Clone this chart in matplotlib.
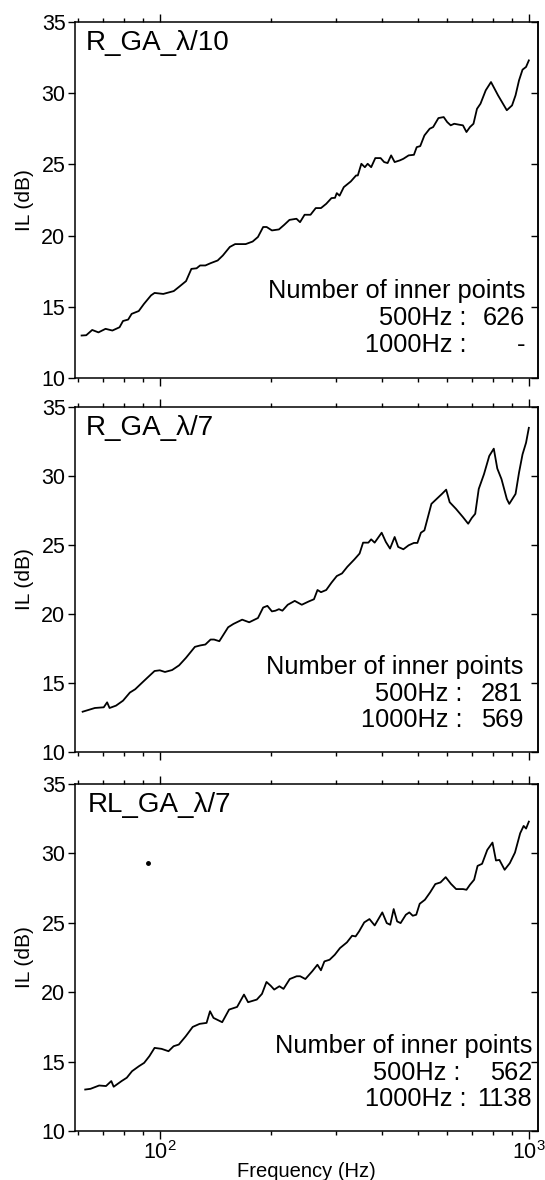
import matplotlib
matplotlib.use("Agg")
import matplotlib.pyplot as plt
from matplotlib.ticker import LogLocator, MultipleLocator, NullFormatter

plt.rcParams["font.family"] = ["Liberation Sans", "DejaVu Sans"]
plt.rcParams["mathtext.fontset"] = "custom"
plt.rcParams["mathtext.rm"] = "Liberation Sans"
plt.rcParams["mathtext.it"] = "Liberation Sans:italic"
plt.rcParams["mathtext.bf"] = "Liberation Sans:bold"

# --- data (frequency in Hz, IL in dB) ---
freq_r10 = [61.4, 63.2, 65.6, 68.2, 71.3, 74.4, 77.8, 79.5, 82.1, 83.9, 87.7, 90.6,
            94.7, 96.8, 102.2, 109.1, 112.8, 117.8, 121.8, 125.8, 128.6, 132.9, 137.3,
            143.5, 148.2, 154.8, 160.0, 170.9, 178.5, 184.5, 190.6, 194.8, 201.3, 210.3,
            217.3, 224.6, 234.6, 239.9, 246.8, 256.1, 264.6, 273.4, 282.5, 291.9, 298.4,
            301.7, 307.0, 315.2, 329.3, 340.3, 344.0, 351.7, 359.5, 365.8, 373.9, 383.7,
            396.6, 405.4, 414.3, 423.5, 432.9, 447.3, 457.1, 472.4, 488.2, 496.8, 507.8,
            521.2, 538.6, 550.5, 568.9, 587.9, 600.8, 614.1, 627.7, 648.6, 662.9, 677.6,
            692.6, 707.9, 723.6, 739.6, 764.2, 789.7, 825.0, 871.5, 900.5, 920.4, 940.6,
            961.4, 982.7, 1000.0]
il_r10 = [12.98, 13.0, 13.37, 13.2, 13.45, 13.33, 13.56, 14.0, 14.1, 14.5, 14.7, 15.2,
          15.8, 15.97, 15.9, 16.1, 16.4, 16.8, 17.66, 17.7, 17.9, 17.9, 18.06,
          18.25, 18.6, 19.2, 19.4, 19.4, 19.58, 19.9, 20.6, 20.6, 20.36, 20.43,
          20.75, 21.1, 21.18, 20.94, 21.46, 21.46, 21.93, 21.93, 22.23, 22.63, 22.65,
          22.98, 22.8, 23.4, 23.8, 24.22, 24.22, 25.04, 24.8, 25.04, 24.8, 25.44,
          25.44, 25.16, 25.09, 25.63, 25.16, 25.28, 25.39, 25.63, 25.67, 26.21, 26.28,
          27.03, 27.5, 27.62, 28.25, 28.32, 27.97, 27.74, 27.85, 27.78, 27.74, 27.27,
          27.62, 27.85, 28.9, 29.26, 30.2, 30.78, 29.85, 28.8, 29.14, 29.85, 30.9,
          31.65, 31.84, 32.3]

freq_r7 = [61.8, 66.7, 70.5, 72.0, 73.1, 76.1, 79.5, 83.0, 85.8, 89.6, 92.6, 96.8,
           100.0, 103.3, 108.0, 112.8, 117.8, 124.5, 128.6, 132.9, 137.3, 140.3, 145.0,
           153.2, 158.3, 167.2, 174.7, 184.5, 190.6, 195.7, 201.3, 205.8, 210.3, 214.9,
           222.2, 232.1, 242.5, 253.3, 261.7, 267.5, 273.4, 282.5, 291.9, 301.7, 311.7,
           322.2, 336.6, 347.8, 355.5, 367.4, 373.9, 382.1, 399.2, 409.8, 420.6, 432.9,
           442.5, 457.1, 472.4, 488.2, 498.9, 510.0, 521.2, 544.5, 562.6, 581.4, 597.0,
           610.2, 634.6, 662.9, 684.9, 700.1, 715.6, 731.5, 755.8, 781.1, 803.5, 821.3,
           843.2, 871.5, 885.0, 920.4, 940.6, 961.4, 982.7, 1000.0]
il_r7 = [12.92, 13.19, 13.24, 13.6, 13.19, 13.36, 13.72, 14.31, 14.55, 15.03, 15.39, 15.87,
         15.92, 15.8, 15.94, 16.28, 16.83, 17.62, 17.72, 17.79, 18.15, 18.15, 18.03,
         19.04, 19.28, 19.59, 19.4, 19.71, 20.47, 20.59, 20.19, 20.24, 20.35, 20.24,
         20.67, 20.95, 20.67, 20.91, 21.07, 21.74, 21.58, 21.74, 22.27, 22.75, 22.94,
         23.42, 23.95, 24.38, 25.17, 25.17, 25.41, 25.17, 25.89, 25.22, 24.74, 25.58,
         24.86, 24.69, 24.98, 25.15, 25.15, 25.89, 26.06, 27.98, 28.34, 28.7, 29.01,
         28.1, 27.62, 27.02, 26.54, 26.95, 27.26, 29.06, 30.13, 31.45, 31.98, 30.54,
         29.77, 28.34, 27.98, 28.7, 30.25, 31.57, 32.41, 33.49]

freq_rl7 = [62.8, 64.9, 68.5, 71.5, 73.9, 75.0, 78.8, 81.4, 84.1, 87.8, 90.7, 93.7,
            96.8, 101.1, 105.6, 109.0, 112.6, 117.6, 122.8, 128.2, 133.9, 136.8, 139.8,
            147.6, 154.1, 162.0, 169.1, 173.5, 183.2, 189.2, 194.6, 199.7, 204.2, 210.9,
            216.4, 225.0, 234.9, 240.1, 248.0, 258.9, 267.4, 273.3, 279.3, 288.5, 298.0,
            307.8, 321.4, 332.0, 339.3, 346.7, 358.1, 369.9, 382.2, 400.8, 412.1, 421.1,
            430.3, 439.7, 449.3, 464.2, 474.4, 484.7, 495.3, 506.1, 522.8, 540.1, 557.9,
            576.3, 595.2, 614.9, 635.2, 663.2, 677.6, 692.5, 710.7, 726.2, 746.9, 771.5,
            797.0, 814.5, 832.3, 859.8, 888.1, 917.1, 947.3, 968.0, 982.9, 1000.0]
il_rl7 = [12.99, 13.04, 13.28, 13.24, 13.6, 13.19, 13.6, 13.84, 14.31, 14.67, 14.91, 15.39,
          15.99, 15.92, 15.75, 16.11, 16.23, 16.83, 17.5, 17.72, 17.79, 18.63, 18.15,
          17.84, 18.75, 18.94, 19.83, 19.28, 19.47, 19.88, 20.74, 20.47, 20.19, 20.43,
          20.24, 20.95, 21.15, 21.15, 20.95, 21.51, 21.98, 21.58, 22.22, 22.34, 22.7,
          23.18, 23.59, 24.07, 24.02, 24.38, 25.03, 25.27, 24.81, 25.75, 24.98, 24.86,
          25.99, 25.1, 24.98, 25.58, 25.75, 25.51, 25.58, 26.37, 26.66, 27.19, 27.79,
          27.91, 28.29, 27.81, 27.43, 27.43, 27.38, 27.74, 28.1, 29.1, 29.25, 30.25,
          30.78, 29.49, 29.53, 28.82, 29.3, 30.06, 31.45, 31.98, 31.79, 32.29]

# stray dot in the bottom panel
stray_freq = [92.8]
stray_il = [29.3]

titles = ["R_GA_λ/10", "R_GA_λ/7", "RL_GA_λ/7"]
points_500 = ["626", "281", "562"]
points_1000 = ["-", "569", "1138"]

fig = plt.figure(figsize=(5.45, 11.8), dpi=100)
positions = [
    [0.138, 0.6797, 0.8495, 0.3017],
    [0.138, 0.3627, 0.8495, 0.2924],
    [0.138, 0.0415, 0.8495, 0.2941],
]
series = [(freq_r10, il_r10), (freq_r7, il_r7), (freq_rl7, il_rl7)]
text_right = [0.972, 0.968, 0.987]
colon_x = [(0.845, 0.845), (0.836, 0.836), (0.833, 0.845)]
fs_note = 18.3

for i, (pos, (f, il)) in enumerate(zip(positions, series)):
    ax = fig.add_axes(pos)
    ax.plot(f, il, color="black", lw=1.3)
    if i == 2:
        ax.plot(stray_freq, stray_il, "o", color="black", ms=2.5)
    ax.set_xscale("log")
    ax.set_xlim(59, 1060)
    ax.set_ylim(10, 35)
    ax.yaxis.set_major_locator(MultipleLocator(5))
    ax.xaxis.set_major_locator(LogLocator(base=10))
    ax.xaxis.set_minor_locator(LogLocator(base=10, subs=range(2, 10)))
    ax.xaxis.set_minor_formatter(NullFormatter())
    for sp in ax.spines.values():
        sp.set_linewidth(1.1)
    ax.tick_params(axis="y", which="major", direction="out", length=5, width=1,
                   labelsize=15.5, pad=2)
    ax.tick_params(axis="x", which="both", direction="out", top=True, bottom=True,
                   labelsize=15.5, width=1, pad=1)
    ax.tick_params(axis="x", which="major", length=6)
    ax.tick_params(axis="x", which="minor", length=3)
    sec = ax.secondary_yaxis("right")
    sec.yaxis.set_major_locator(MultipleLocator(5))
    sec.tick_params(direction="in", length=5, width=1, labelright=False)
    sec.spines["right"].set_linewidth(1.1)
    if i < 2:
        ax.tick_params(axis="x", labelbottom=False)
    else:
        ax.set_xlabel("Frequency (Hz)", fontsize=14.5, labelpad=-1)
    ax.set_ylabel("IL (dB)", fontsize=15, labelpad=5)

    ax.text(0.022 if i < 2 else 0.028, 0.94, titles[i], transform=ax.transAxes,
            fontsize=20, ha="left", va="center")
    r = text_right[i]
    ax.text(r, 0.245, "Number of inner points", transform=ax.transAxes,
            fontsize=fs_note, ha="right", va="center")
    ax.text(colon_x[i][0], 0.168, "500Hz :", transform=ax.transAxes,
            fontsize=fs_note, ha="right", va="center")
    ax.text(r, 0.168, points_500[i], transform=ax.transAxes,
            fontsize=fs_note, ha="right", va="center")
    ax.text(colon_x[i][1], 0.092, "1000Hz :", transform=ax.transAxes,
            fontsize=fs_note, ha="right", va="center")
    ax.text(r, 0.092, points_1000[i], transform=ax.transAxes,
            fontsize=fs_note, ha="right", va="center")

fig.savefig("out.png", dpi=100)
